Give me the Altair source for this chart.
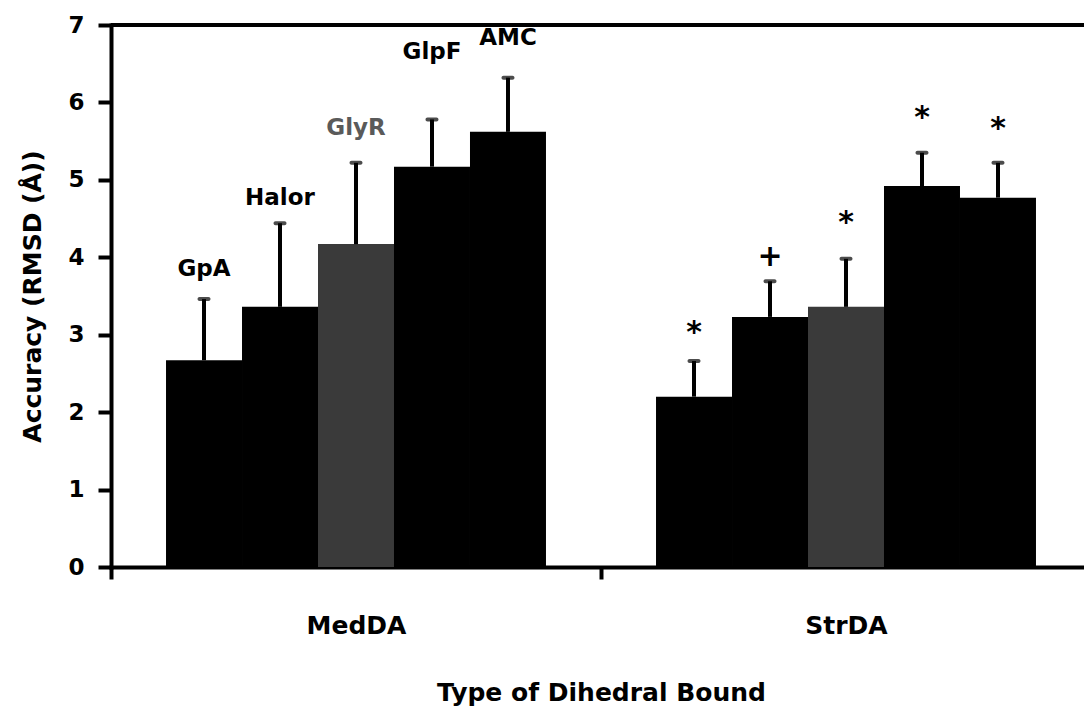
import altair as alt
import pandas as pd

# Mean backbone RMSD (Å) and its standard deviation per protein, for each dihedral bound type
groups = ["MedDA", "StrDA"]
proteins = ["GpA", "Halor", "GlyR", "GlpF", "AMC"]
medda_rmsd = [2.67, 3.36, 4.17, 5.17, 5.62]
medda_sd = [0.79, 1.08, 1.05, 0.61, 0.70]
strda_rmsd = [2.20, 3.23, 3.36, 4.92, 4.77]
strda_sd = [0.46, 0.46, 0.62, 0.43, 0.45]
strda_flags = ["*", "+", "*", "*", "*"]
# heights (in Å) at which the protein names and significance marks are written
medda_label_at = [3.85, 4.77, 5.67, 6.65, 6.83]
strda_label_at = [3.02, 4.00, 4.44, 5.80, 5.66]
bar_fill = ["#000000", "#000000", "#3a3a3a", "#000000", "#000000"]
y_ticks = [0, 1, 2, 3, 4, 5, 6, 7]

FONT = "DejaVu Sans"

rows = []
for g, means, sds, at in [
    ("MedDA", medda_rmsd, medda_sd, medda_label_at),
    ("StrDA", strda_rmsd, strda_sd, strda_label_at),
]:
    for i, p in enumerate(proteins):
        rows.append({
            "group": g,
            "protein": p,
            "rmsd": means[i],
            "top": round(means[i] + sds[i], 3),
            "label": p if g == "MedDA" else strda_flags[i],
            "label_at": at[i],
            "ink": "#5a5a5a" if p == "GlyR" else "#000000",
        })
df = pd.DataFrame(rows)

x_enc = alt.X(
    "group:N",
    scale=alt.Scale(domain=groups, range=[0, 980], paddingInner=0, paddingOuter=0),
    title="Type of Dihedral Bound",
    axis=alt.Axis(
        labelAngle=0, tickBand="extent", domainWidth=4, domainColor="#000",
        domainCap="square", tickWidth=4, tickSize=12, tickColor="#000",
        labelFont=FONT, labelFontSize=25, labelFontWeight="bold", labelColor="#000",
        labelPadding=34, titleFont=FONT, titleFontSize=25, titleFontWeight="bold",
        titleColor="#000", titlePadding=42,
    ),
)
xo_enc = alt.XOffset(
    "protein:N",
    scale=alt.Scale(domain=proteins, paddingOuter=0.724, paddingInner=0),
)
y_scale = alt.Scale(domain=[0, 7], nice=False, zero=True)
y_enc = alt.Y(
    "rmsd:Q",
    scale=y_scale,
    title="Accuracy (RMSD (Å))",
    axis=alt.Axis(
        values=y_ticks, format="d", grid=False, domainWidth=4, domainColor="#000",
        domainCap="square", tickWidth=4, tickSize=13, tickColor="#000",
        labelFont=FONT, labelFontSize=23, labelFontWeight="bold", labelColor="#000",
        labelPadding=14, titleFont=FONT, titleFontSize=25, titleFontWeight="bold",
        titleColor="#000", titlePadding=22,
    ),
)

base = alt.Chart(df)

bars = base.mark_bar().encode(
    x=x_enc,
    xOffset=xo_enc,
    y=y_enc,
    color=alt.Color("protein:N", scale=alt.Scale(domain=proteins, range=bar_fill), legend=None),
)

stems = base.mark_rule(strokeWidth=4, color="#000").encode(
    x=x_enc, xOffset=xo_enc, y=alt.Y("rmsd:Q", scale=y_scale), y2="top:Q"
)

caps = base.mark_tick(thickness=4, size=13, color="#000", cornerRadius=2).encode(
    x=x_enc, xOffset=xo_enc, y=alt.Y("top:Q", scale=y_scale)
)

names = base.transform_filter(alt.datum.group == "MedDA").mark_text(
    font=FONT, fontSize=23, fontWeight="bold", baseline="middle"
).encode(
    x=x_enc, xOffset=xo_enc, y=alt.Y("label_at:Q", scale=y_scale),
    text="label:N", color=alt.Color("ink:N", scale=None),
)

flags = base.transform_filter(alt.datum.group == "StrDA").mark_text(
    font=FONT, fontSize=30, fontWeight="bold", baseline="middle"
).encode(
    x=x_enc, xOffset=xo_enc, y=alt.Y("label_at:Q", scale=y_scale), text="label:N",
    color=alt.value("#000"),
)

frame_top = alt.Chart(pd.DataFrame({"v": [7]})).mark_rule(strokeWidth=4, color="#000").encode(
    y=alt.Y("v:Q", scale=y_scale)
)

chart = alt.layer(bars, stems, caps, names, flags, frame_top).properties(
    width=973,
    height=542,
    autosize=alt.AutoSizeParams(type="none"),
    padding={"left": 111, "top": 25, "right": 0, "bottom": 144},
    background="white",
).configure_view(stroke=None)

chart.save("out.html", embed_options={"renderer": "svg", "actions": False})
